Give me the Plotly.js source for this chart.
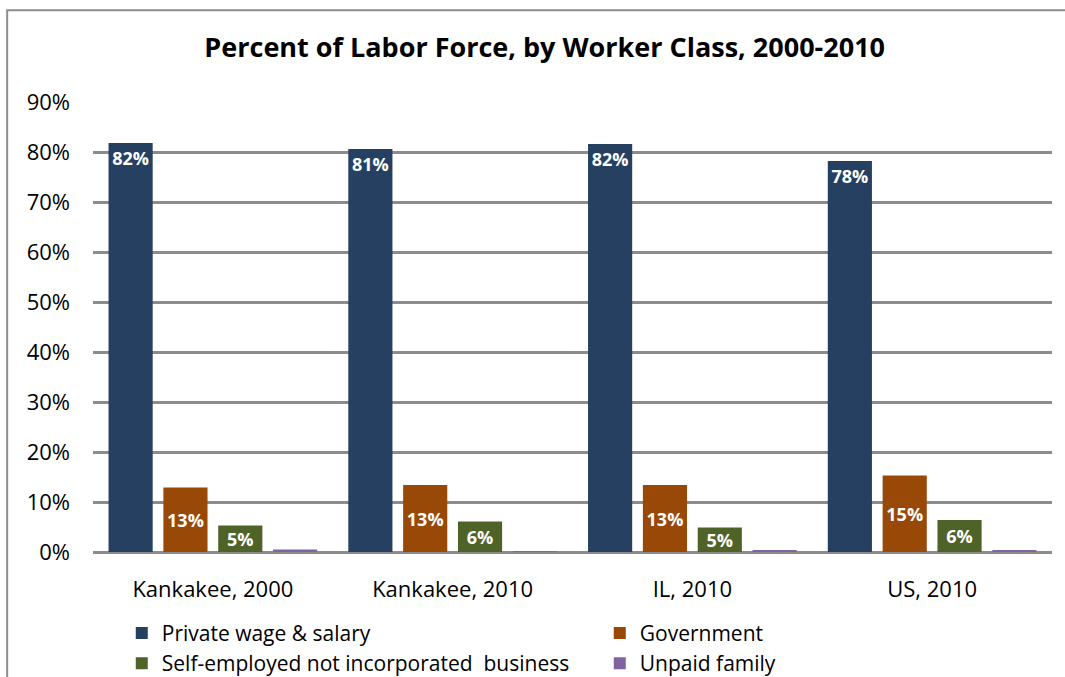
<!DOCTYPE html>
<html>
<head>
<meta charset="utf-8">
<script src="https://cdn.plot.ly/plotly-3.0.1.min.js"></script>
<style>html,body{margin:0;padding:0;background:#fff;}#chart{width:1065px;height:677px;}</style>
</head>
<body>
<div id="chart"></div>
<script>
const categories = ["Kankakee, 2000", "Kankakee, 2010", "IL, 2010", "US, 2010"];
const seriesNames = ["Private wage & salary", "Government", "Self-employed not incorporated  business", "Unpaid family"];
const privateWage = [0.818, 0.806, 0.816, 0.782];
const government = [0.129, 0.134, 0.134, 0.153];
const selfEmployed = [0.053, 0.061, 0.049, 0.064];
const unpaidFamily = [0.005, 0.002, 0.004, 0.004];
const colors = ["#254061", "#984807", "#4F6228", "#8064A2"];
const yTickVals = [0, 0.1, 0.2, 0.3, 0.4, 0.5, 0.6, 0.7, 0.8, 0.9];

const FONT = "'Open Sans', Lato, sans-serif";
const labelFont = {family: FONT, size: 18, color: "#ffffff", weight: 700};

function bar(name, y, color, showText, anchor) {
  return {
    type: "bar", name: name, x: categories, y: y,
    marker: {color: color},
    text: showText ? y.map(v => Math.round(v * 100) + "%") : undefined,
    textposition: showText ? "inside" : "none",
    insidetextanchor: anchor || "middle",
    textangle: 0,
    constraintext: "none",
    textfont: labelFont,
    hoverinfo: "x+y+name"
  };
}

const data = [
  bar(seriesNames[0], privateWage, colors[0], true, "end"),
  bar(seriesNames[1], government, colors[1], true, "middle"),
  bar(seriesNames[2], selfEmployed, colors[2], true, "middle"),
  bar(seriesNames[3], unpaidFamily, colors[3], false)
];

const layout = {
  width: 1065, height: 677,
  margin: {l: 93, r: 13, t: 102, b: 125, pad: 0, autoexpand: false},
  paper_bgcolor: "#ffffff", plot_bgcolor: "#ffffff",
  font: {family: FONT, size: 21, color: "#000000"},
  title: {
    text: "<b>Percent of Labor Force, by Worker Class, 2000-2010</b>",
    font: {family: FONT, size: 27, color: "#000000"},
    xref: "paper", x: 0.471, xanchor: "center",
    yref: "container", y: 1 - 48 / 677, yanchor: "middle"
  },
  barmode: "group", bargap: 0.085, bargroupgap: 0.195,
  xaxis: {
    type: "category", showgrid: false, zeroline: false, showline: false,
    ticks: "", ticklabelstandoff: 22, tickfont: {family: FONT, size: 22, color: "#000"}
  },
  yaxis: {
    range: [0, 0.9], tickvals: yTickVals, tickformat: ".0%",
    showgrid: true, gridcolor: "#8c8c8c", gridwidth: 3,
    zeroline: true, zerolinecolor: "#8c8c8c", zerolinewidth: 3,
    showline: false, ticks: "", ticklabelstandoff: 22,
    tickfont: {family: FONT, size: 22, color: "#000"}
  },
  showlegend: true,
  legend: {
    orientation: "h", x: 0.03, xanchor: "left", y: -0.135, yanchor: "top",
    entrywidth: 433, entrywidthmode: "pixels", traceorder: "normal",
    font: {family: FONT, size: 21, color: "#000"}, bgcolor: "rgba(0,0,0,0)"
  },
  shapes: [{
    type: "rect", xref: "paper", yref: "paper",
    x0: -0.0895, x1: 1.06, y0: -0.4, y1: 1.204,
    line: {color: "#8c8c8c", width: 2}, fillcolor: "rgba(0,0,0,0)", layer: "below"
  }]
};

Plotly.newPlot("chart", data, layout, {displayModeBar: false, staticPlot: true});
</script>
</body>
</html>
